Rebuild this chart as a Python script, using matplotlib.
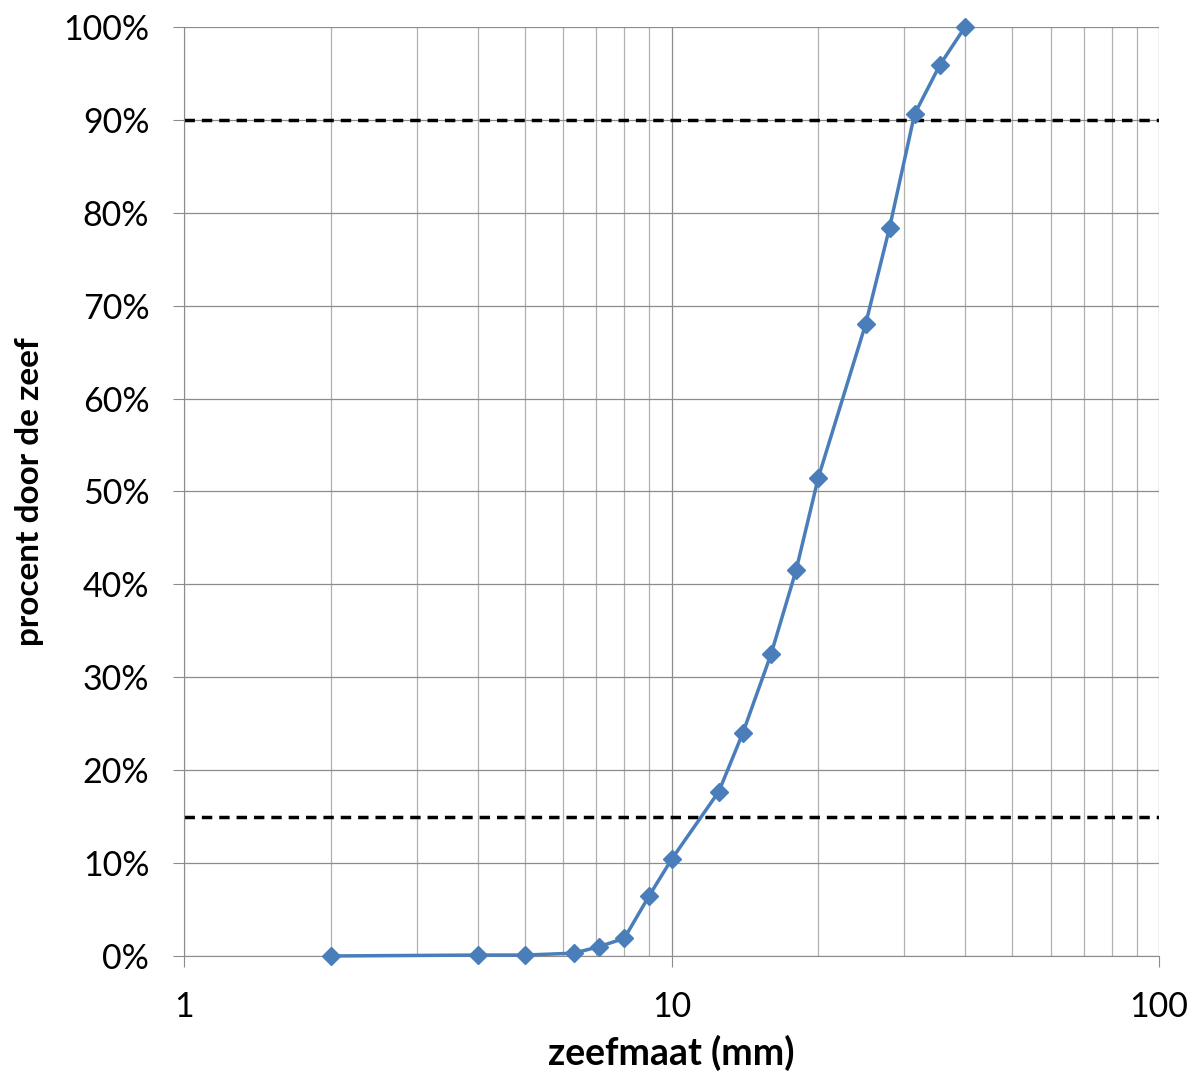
import numpy as np
import matplotlib
matplotlib.use('Agg')
import matplotlib.pyplot as plt
from matplotlib.ticker import FuncFormatter, LogLocator, NullFormatter

plt.rcParams['font.family'] = ['Lato', 'DejaVu Sans']

# zeefkromme
zeefmaat = [2, 4, 5, 6.3, 7.1, 8, 9, 10, 12.5, 14, 16, 18, 20, 25, 28, 31.5, 35.5, 40]
procent = [0.0, 0.1, 0.1, 0.3, 1.0, 1.9, 6.5, 10.4, 17.7, 24.0, 32.5, 41.5, 51.5,
           68.0, 78.4, 90.6, 95.9, 100.0]
grenzen = [90, 15]

fig = plt.figure(figsize=(12.03, 10.78), dpi=100)
ax = fig.add_axes([0.153, 0.1132, 0.8105, 0.8618])

ax.set_xscale('log')
ax.set_xlim(1, 100)
ax.set_ylim(0, 100)

ax.xaxis.set_major_locator(LogLocator(base=10))
ax.xaxis.set_minor_locator(LogLocator(base=10, subs=np.arange(2, 10)))
ax.xaxis.set_minor_formatter(NullFormatter())
ax.xaxis.set_major_formatter(FuncFormatter(lambda v, p: f'{v:g}'))
ax.set_yticks(np.arange(0, 101, 10))
ax.yaxis.set_major_formatter(FuncFormatter(lambda v, p: f'{v:.0f}%'))

ax.grid(True, which='major', color='#8c8c8c', linewidth=0.9)
ax.grid(True, which='minor', axis='x', color='#b0b0b0', linewidth=0.9)
ax.set_axisbelow(True)

for g in grenzen:
    ax.axhline(g, color='black', linestyle=(0, (3, 2)), linewidth=2.5, zorder=2)

ax.plot(zeefmaat, procent, color='#4a7ebb', linewidth=2.5, marker='D',
        markersize=9, markerfacecolor='#4a7ebb', markeredgecolor='#4a7ebb',
        zorder=3, clip_on=False)

for s in ['top', 'right']:
    ax.spines[s].set_visible(False)
ax.spines['left'].set_color('#8c8c8c')
ax.spines['bottom'].set_color('#8c8c8c')

ax.tick_params(axis='both', which='major', labelsize=24.5, length=8,
               color='#8c8c8c')
ax.tick_params(axis='y', which='major', pad=17)
ax.tick_params(axis='x', which='minor', length=0)
ax.tick_params(axis='x', which='major', pad=17)

ax.set_xlabel('zeefmaat (mm)', fontsize=27, fontweight='bold', labelpad=9)
ax.set_ylabel('procent door de zeef', fontsize=24, fontweight='bold', labelpad=14)

fig.savefig('out.png', dpi=100)
